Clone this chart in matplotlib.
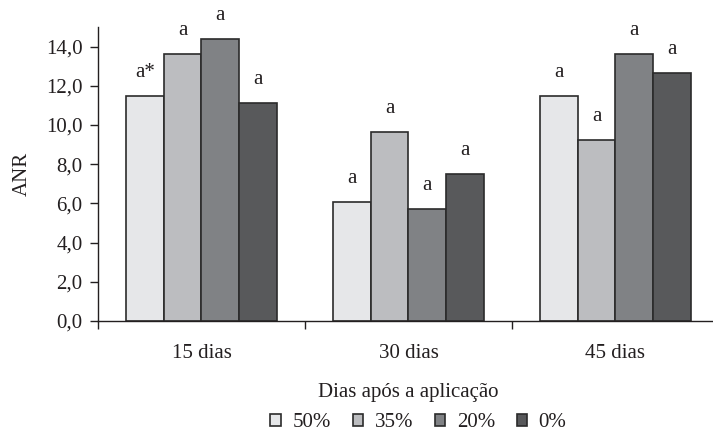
import numpy as np
import matplotlib.pyplot as plt

plt.rcParams['font.family'] = ['Liberation Serif', 'DejaVu Serif']

# data
groups = ["15 dias", "30 dias", "45 dias"]
series = ["50%", "35%", "20%", "0%"]
v50 = [11.5, 6.08, 11.5]
v35 = [13.64, 9.66, 9.25]
v20 = [14.4, 5.72, 13.64]
v0 = [11.14, 7.51, 12.67]
letters = [["a*", "a", "a"], ["a", "a", "a"], ["a", "a", "a"], ["a", "a", "a"]]
colors = ["#e6e7e9", "#bcbdc0", "#808285", "#58595b"]

values = [v50, v35, v20, v0]
FS = 15
txt = "#231f20"

fig = plt.figure(figsize=(7.13, 4.33), dpi=100)
ax = fig.add_axes([0.1374, 0.2587, 0.8710, 0.6789])

x = np.arange(len(groups))
w = 0.1825
for i, (vals, col, lab) in enumerate(zip(values, colors, series)):
    pos = x + (i - 1.5) * w
    ax.bar(pos, vals, width=w, color=col, edgecolor="#2b2b2b", linewidth=1.2, label=lab)
    for p, v, t in zip(pos, vals, letters[i]):
        ax.text(p, v + 0.95, t, ha="center", va="baseline", fontsize=FS, color=txt)

ax.set_xlim(-0.5, 2.5)
ax.set_ylim(0, 15)
yt = np.arange(0, 15, 2)
ax.set_yticks(yt)
ax.set_yticklabels([f"{t:.1f}".replace(".", ",") for t in yt], fontsize=FS, color=txt)
ax.set_xticks([-0.5, 0.5, 1.5])
ax.set_xticklabels([])
ax.set_xticks(x, minor=True)
ax.set_xticklabels(groups, minor=True, fontsize=FS, color=txt)
ax.tick_params(axis="x", which="minor", length=0, pad=16.5)
ax.tick_params(axis="x", which="major", length=6, width=1, direction="out", color=txt)
ax.tick_params(axis="y", length=6, width=1, direction="out", pad=5, color=txt)
for s in ["top", "right"]:
    ax.spines[s].set_visible(False)
for s in ["left", "bottom"]:
    ax.spines[s].set_linewidth(1)
    ax.spines[s].set_color(txt)

ax.set_ylabel("ANR", fontsize=FS, labelpad=10, color=txt)
fig.text(0.573, 1 - 392 / 433, "Dias após a aplicação", ha="center", va="center",
         fontsize=FS, color=txt)

handles, labs = ax.get_legend_handles_labels()
fig.legend(handles, labs, loc="lower center", bbox_to_anchor=(0.587, 0.0), ncol=4,
           frameon=False, fontsize=FS, handlelength=0.5, handleheight=0.5,
           handletextpad=0.55, columnspacing=1.05, labelcolor=txt,
           borderpad=0.0, borderaxespad=0.05)

fig.savefig("out.png", dpi=100)
